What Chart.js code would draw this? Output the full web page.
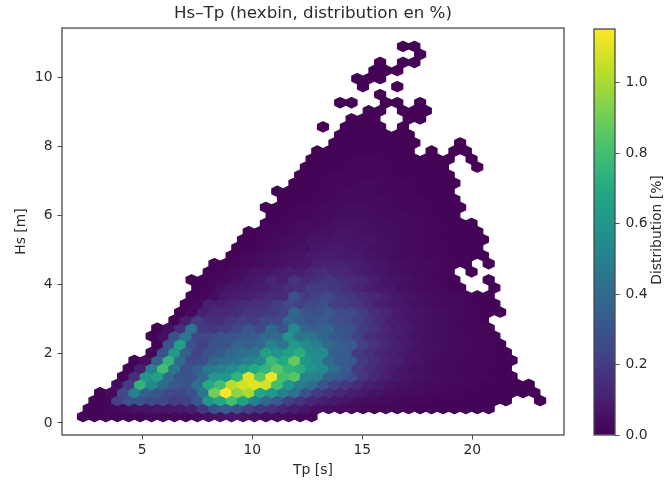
<!DOCTYPE html>
<html>
<head>
<meta charset="utf-8">
<title>Hs-Tp hexbin</title>
<script src="https://cdn.jsdelivr.net/npm/chart.js@4"></script>
<style>
    html, body { margin: 0; padding: 0; background: #fff; }
    #wrap { position: relative; width: 665px; height: 480px; overflow: hidden; }
    canvas { position: absolute; top: 0; }
</style>
</head>
<body>
<div id="wrap">
    <canvas id="hexChart" width="570" height="480" style="left:0"></canvas>
    <canvas id="barChart" width="95" height="480" style="left:570px"></canvas>
</div>
<script>
const titleText = 'Hs–Tp (hexbin, distribution en %)';
const xLabel = 'Tp [s]';
const yLabel = 'Hs [m]';
const barLabel = 'Distribution [%]';
const xTicks = [5, 10, 15, 20];
const yTicks = [0, 2, 4, 6, 8, 10];
const barTicks = [0, 0.2, 0.4, 0.6, 0.8, 1];
const maxValue = 1.153;

// first column of each hexbin row, bottom row first
const rowStart = [0, 0, 1, 1, 3, 3, 4, 4, 6, 6, 6, 6, 8, 8, 9, 9, 10, 9, 11, 11, 13, 13, 14, 14,
    16, 16, 16, 17, 17, 18, 19, 19, 20, 20, 22, 22, 21, 23, 25, 22, 26, 24, 24, 25, 26, 29, 28];

// distribution in %. null = empty bin
const rowValues = [
    [.01,.01,.01,.01,.01,.01,.02,.02,.02,.02,.03,.05,.06,.07,.06,.05,.04,.03,.03,.02,.02],
    [.01,.01,.02,.03,.05,.06,.07,.07,.08,.1,.18,.3,.33,.3,.22,.18,.16,.12,.09,.07,.05,.04,.03,.03,.02,.02,.02,.02,.01,.01,.01,.01,.01,.01,.01,.01],
    [.01,.02,.22,.28,.3,.25,.24,.2,.22,.32,.6,.68,.8,.65,.5,.38,.32,.22,.17,.12,.1,.08,.06,.05,.04,.03,.03,.02,.02,.02,.01,.01,.01,.01,.01,.01,.01,null,null,.005],
    [.01,.03,.25,.5,.35,.3,.25,.24,.28,.45,.9,1.15,.95,1.0,.68,.6,.5,.42,.28,.2,.16,.12,.1,.08,.06,.05,.04,.03,.03,.02,.02,.02,.01,.01,.01,.01,.01,.005,.005],
    [.04,.2,.75,.55,.4,.32,.28,.42,.7,.8,1.03,1.08,1.1,1.08,.8,.6,.48,.42,.3,.22,.18,.14,.1,.08,.06,.05,.04,.03,.03,.02,.02,.02,.01,.01,.01,.01,.005],
    [.01,.15,.6,.65,.4,.3,.3,.4,.6,.6,.75,1.1,.85,1.13,.8,.85,.52,.5,.36,.32,.27,.18,.13,.1,.08,.06,.05,.04,.03,.03,.02,.02,.02,.01,.01],
    [.01,.1,.5,.8,.45,.28,.35,.47,.5,.56,.63,.7,.75,.85,.75,.72,.58,.55,.42,.33,.2,.15,.12,.09,.07,.05,.04,.03,.03,.02,.02,.02,.01,.01],
    [.01,.05,.35,.75,.4,.25,.28,.38,.42,.45,.5,.55,.78,.7,.88,.6,.55,.4,.33,.32,.2,.15,.12,.1,.07,.06,.04,.03,.03,.02,.02,.02,.01,.01],
    [.02,.3,.6,.35,.22,.3,.33,.38,.42,.45,.65,.58,.65,.72,.55,.55,.35,.33,.2,.16,.12,.1,.08,.06,.05,.04,.03,.03,.02,.02,.01,.01],
    [.01,.3,.65,.3,.22,.3,.3,.37,.35,.4,.52,.45,.62,.55,.5,.4,.35,.33,.22,.17,.13,.1,.08,.06,.05,.04,.03,.03,.02,.02,.01],
    [.01,.05,.3,.45,.25,.25,.28,.3,.33,.33,.4,.4,.58,.45,.45,.38,.32,.3,.22,.16,.13,.1,.08,.06,.05,.04,.03,.03,.02,.02,.01],
    [.005,.05,.15,.45,.2,.18,.2,.25,.3,.25,.38,.3,.55,.38,.35,.38,.3,.28,.2,.17,.12,.1,.08,.06,.05,.04,.03,.02,.02,.02],
    [.01,.1,.2,.15,.15,.18,.22,.2,.25,.25,.38,.35,.3,.33,.28,.27,.22,.18,.14,.1,.08,.06,.05,.04,.03,.02,.02,.01],
    [.01,.03,.1,.13,.13,.15,.18,.18,.2,.22,.38,.3,.28,.32,.26,.26,.2,.15,.12,.09,.07,.06,.05,.04,.03,.02,.02,.01,.01],
    [.01,.03,.1,.1,.12,.14,.15,.16,.2,.25,.22,.25,.28,.22,.2,.18,.14,.1,.08,.07,.05,.04,.03,.03,.02,.02,.01,.01],
    [.01,.02,.04,.08,.1,.1,.12,.14,.14,.28,.2,.22,.25,.2,.18,.15,.13,.1,.08,.06,.05,.04,.03,.03,.02,.01,.01],
    [.01,.02,.05,.07,.08,.09,.1,.12,.15,.16,.2,.2,.18,.16,.12,.1,.08,.07,.05,.04,.03,.03,.02,.01,null,null,.01],
    [.005,.01,.02,.03,.05,.07,.08,.12,.1,.18,.14,.16,.18,.16,.14,.12,.09,.07,.06,.05,.04,.03,.02,.01,null,null,.01],
    [.01,.02,.03,.04,.06,.07,.08,.1,.1,.12,.14,.13,.12,.1,.08,.07,.05,.04,.03,.03,.02,.01,null,.005],
    [.005,.01,.02,.03,.04,.05,.06,.07,.08,.1,.11,.11,.1,.09,.07,.06,.05,.04,.03,.03,.02,.01,.01,null,.01],
    [.01,.02,.03,.04,.05,.06,.06,.08,.09,.09,.08,.08,.06,.05,.04,.03,.03,.02,.02,.02,.01,.01,.005],
    [.005,.01,.02,.03,.04,.05,.05,.07,.08,.08,.07,.07,.05,.05,.04,.03,.03,.02,.02,.01,.01,.01],
    [.01,.01,.02,.03,.04,.04,.06,.06,.07,.07,.06,.06,.05,.04,.03,.03,.02,.02,.01,.01,.01,.005],
    [.005,.01,.02,.02,.03,.04,.05,.05,.06,.06,.05,.05,.04,.04,.03,.02,.02,.01,.01,.01,.01],
    [.01,.01,.02,.03,.03,.04,.05,.05,.05,.05,.04,.04,.03,.03,.02,.02,.01,.01,.01],
    [.005,.01,.02,.02,.03,.03,.04,.04,.04,.04,.03,.03,.03,.02,.02,.01,.01],
    [.005,.01,.01,.02,.02,.03,.03,.04,.04,.04,.03,.03,.02,.02,.02,.01,.01,.005],
    [.005,.01,.01,.02,.02,.03,.03,.03,.03,.03,.02,.02,.02,.01,.01,.01],
    [.005,.005,.01,.01,.02,.02,.03,.03,.03,.02,.02,.02,.01,.01,.01,.005],
    [.005,.01,.01,.02,.02,.02,.03,.03,.02,.02,.02,.01,.01,.01,.005],
    [.005,.01,.01,.02,.02,.02,.02,.02,.02,.01,.01,.01,.01,.005],
    [.005,.005,.01,.01,.02,.02,.02,.02,.01,.01,.01,.01,.005,null,null,.005],
    [.005,.01,.01,.01,.02,.02,.02,.01,.01,.01,.01,.005,.005,null,.005],
    [.005,.005,.01,.01,.01,.01,.01,.01,.005,null,.005,null,.005,.005],
    [.005,.01,.01,.01,.01,.01,.005,.005,null,null,null,.005],
    [.005,.005,.01,.01,.01,.005,.005],
    [.005,null,.005,.005,.01,.005,null,.005],
    [.005,.005,.005,null,null,.005,.005],
    [.005,.005,null,.005,.005,.005],
    [.005,.005,null,null,.005,.005,null,.005],
    [.005],
    [.005,null,null,.005],
    [.005,.005,.005],
    [.005,.005,.005],
    [.005,null,.005,.005],
    [.005],
    [.005,.005]
];

const viridis = ['#440154', '#482475', '#414487', '#355f8d', '#2a788e', '#21918c', '#22a884', '#44bf70', '#7ad151', '#bddf26', '#fde725'];

// hexbin grid, in data units
const x0 = 2.305, dx = 0.5195;
const y0 = 0.182, dy = 0.2327;

const inkColor = '#2b2b2b';
const frameColor = '#4a4a4a';

function hexToRgb(hex) {
    return [1, 3, 5].map(i => parseInt(hex.substr(i, 2), 16));
}

function colorFor(value) {
    let t = Math.min(value / maxValue, 1) * (viridis.length - 1);
    let i = Math.min(Math.floor(t), viridis.length - 2);
    let a = hexToRgb(viridis[i]), b = hexToRgb(viridis[i + 1]);
    let f = t - i;
    let c = a.map((v, k) => Math.round(v + (b[k] - v) * f));
    return 'rgb(' + c.join(',') + ')';
}

let points = [];
rowValues.forEach(function(values, r) {
    values.forEach(function(v, i) {
        if (v === null) return;
        let col = rowStart[r] + i;
        points.push({ x: x0 + (col + (r % 2 ? 0.5 : 0)) * dx, y: y0 + r * dy, v: v });
    });
});

// turns each scatter point into a hexagon, the point elements get their place from the scales
const hexPlugin = {
    id: 'hexagons',
    afterDatasetsDraw(chart) {
        let ctx = chart.ctx, a = chart.chartArea;
        let halfW = chart.scales.x.getPixelForValue(dx / 2) - chart.scales.x.getPixelForValue(0) - 0.3;
        let apex = (chart.scales.y.getPixelForValue(0) - chart.scales.y.getPixelForValue(dy)) * 2 / 3 - 0.3;
        ctx.save();
        ctx.beginPath();
        ctx.rect(a.left, a.top, a.right - a.left, a.bottom - a.top);
        ctx.clip();
        ctx.lineWidth = 1.3;
        ctx.lineJoin = 'round';
        chart.getDatasetMeta(0).data.forEach(function(el, i) {
            let color = colorFor(points[i].v);
            ctx.beginPath();
            ctx.moveTo(el.x + halfW, el.y - apex / 2);
            ctx.lineTo(el.x + halfW, el.y + apex / 2);
            ctx.lineTo(el.x, el.y + apex);
            ctx.lineTo(el.x - halfW, el.y + apex / 2);
            ctx.lineTo(el.x - halfW, el.y - apex / 2);
            ctx.lineTo(el.x, el.y - apex);
            ctx.closePath();
            ctx.fillStyle = color;
            ctx.strokeStyle = color;
            ctx.fill();
            ctx.stroke();
        });
        ctx.restore();
    }
};

const framePlugin = {
    id: 'frame',
    afterDraw(chart) {
        let a = chart.chartArea, ctx = chart.ctx;
        ctx.save();
        ctx.strokeStyle = frameColor;
        ctx.lineWidth = 1.3;
        ctx.strokeRect(a.left, a.top, a.right - a.left, a.bottom - a.top);
        ctx.restore();
    }
};

Chart.defaults.font.family = '"DejaVu Sans"';
Chart.defaults.font.size = 13.9;
Chart.defaults.color = inkColor;

new Chart(document.getElementById('hexChart'), {
    type: 'scatter',
    data: {
        datasets: [{
            label: 'Distribution',
            data: points,
            pointRadius: 0
        }]
    },
    plugins: [hexPlugin, framePlugin],
    options: {
        responsive: false,
        animation: false,
        layout: { padding: { right: 6 } },
        plugins: {
            legend: { display: false },
            tooltip: { enabled: false },
            title: {
                display: true,
                text: titleText,
                fullSize: false,
                font: { size: 16.7, weight: 'normal', lineHeight: 1.2 },
                color: inkColor,
                padding: { top: 4, bottom: 4 }
            }
        },
        scales: {
            x: {
                type: 'linear',
                min: 1.35,
                max: 24.17,
                afterBuildTicks: function(axis) { axis.ticks = xTicks.map(v => ({ value: v })); },
                afterFit: function(axis) { axis.height = 45; },
                grid: { drawOnChartArea: false, color: frameColor, tickLength: 4.5 },
                border: { display: false },
                ticks: { autoSkip: false, maxRotation: 0, padding: 3 },
                title: { display: true, text: xLabel, padding: { top: 0, bottom: 1.7 } }
            },
            y: {
                type: 'linear',
                min: -0.347,
                max: 11.416,
                afterBuildTicks: function(axis) { axis.ticks = yTicks.map(v => ({ value: v })); },
                afterFit: function(axis) { axis.width = 62; },
                grid: { drawOnChartArea: false, color: frameColor, tickLength: 4.5 },
                border: { display: false },
                ticks: { autoSkip: false, padding: 5 },
                title: { display: true, text: yLabel, padding: { top: 12.7, bottom: 0 } }
            }
        }
    }
});

const barLabelPlugin = {
    id: 'barLabel',
    afterDraw(chart) {
        let a = chart.chartArea, ctx = chart.ctx;
        ctx.save();
        ctx.translate(87, (a.top + a.bottom) / 2 - 2);
        ctx.rotate(-Math.PI / 2);
        ctx.font = '13.9px "DejaVu Sans"';
        ctx.fillStyle = inkColor;
        ctx.textAlign = 'center';
        ctx.textBaseline = 'middle';
        ctx.fillText(barLabel, 0, 0);
        ctx.restore();
    }
};

new Chart(document.getElementById('barChart'), {
    type: 'bar',
    data: {
        labels: [''],
        datasets: [{
            label: barLabel,
            data: [[0, maxValue]],
            categoryPercentage: 1,
            barPercentage: 1,
            backgroundColor: function(ctx) {
                let area = ctx.chart.chartArea;
                if (!area) return viridis[0];
                let grad = ctx.chart.ctx.createLinearGradient(0, area.bottom, 0, area.top);
                viridis.forEach((c, i) => grad.addColorStop(i / (viridis.length - 1), c));
                return grad;
            }
        }]
    },
    plugins: [framePlugin, barLabelPlugin],
    options: {
        responsive: false,
        animation: false,
        layout: { padding: { left: 24, top: 29, bottom: 45 } },
        plugins: {
            legend: { display: false },
            tooltip: { enabled: false }
        },
        scales: {
            x: { display: false },
            y: {
                position: 'right',
                min: 0,
                max: maxValue,
                afterBuildTicks: function(axis) { axis.ticks = barTicks.map(v => ({ value: v })); },
                afterFit: function(axis) { axis.width = 50; },
                grid: { drawOnChartArea: false, color: frameColor, tickLength: 4.5 },
                border: { display: false },
                ticks: {
                    autoSkip: false,
                    padding: 6,
                    callback: function(v) { return v.toFixed(1); }
                }
            }
        }
    }
});
</script>
</body>
</html>
